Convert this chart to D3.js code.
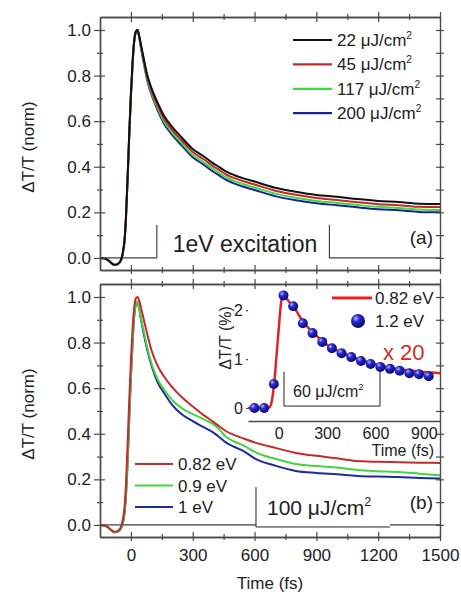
<!DOCTYPE html>
<html>
<head>
<meta charset="utf-8">
<script src="https://cdn.jsdelivr.net/npm/d3@7"></script>
<style>
  body { margin: 0; background: #fff; }
  svg { display: block; }
</style>
</head>
<body>
<svg id="chart"></svg>
<script>
// time axis (fs) shared by the main curves
const times = [-150,-130,-110,-95,-80,-65,-50,-40,-30,-24,-15,-8,0,8,16,25,32,40,50,60,80,100,130,160,200,250,300,350,400,430,460,500,550,600,700,800,900,1000,1100,1200,1300,1400,1500]

// (a) fluence series, normalised ΔT/T
const flu22 = [0,-0.002,-0.01,-0.022,-0.03,-0.027,-0.012,0.02,0.09,0.18,0.38,0.55,0.72,0.86,0.955,0.995,1.0,0.975,0.93,0.885,0.80,0.745,0.68,0.625,0.575,0.525,0.478,0.448,0.415,0.398,0.38,0.364,0.348,0.335,0.308,0.29,0.276,0.268,0.258,0.25,0.245,0.238,0.237]
const flu45 = [0,-0.002,-0.01,-0.022,-0.03,-0.027,-0.013,0.018,0.088,0.178,0.375,0.545,0.715,0.855,0.952,0.994,1.0,0.972,0.925,0.878,0.79,0.733,0.667,0.612,0.562,0.512,0.465,0.435,0.402,0.385,0.367,0.351,0.335,0.322,0.295,0.277,0.263,0.254,0.244,0.236,0.231,0.224,0.223]
const flu117 = [0,-0.002,-0.011,-0.023,-0.031,-0.028,-0.014,0.016,0.085,0.175,0.37,0.54,0.71,0.85,0.95,0.993,1.0,0.97,0.92,0.872,0.782,0.724,0.656,0.6,0.55,0.5,0.452,0.422,0.389,0.372,0.354,0.338,0.322,0.309,0.282,0.264,0.25,0.241,0.232,0.224,0.219,0.212,0.21]
const flu200 = [0,-0.002,-0.011,-0.023,-0.031,-0.028,-0.015,0.015,0.083,0.172,0.366,0.536,0.706,0.846,0.948,0.992,1.0,0.968,0.916,0.866,0.775,0.716,0.647,0.59,0.54,0.49,0.442,0.411,0.378,0.361,0.343,0.327,0.311,0.298,0.271,0.253,0.24,0.231,0.222,0.214,0.209,0.202,0.2]
const fluLabels = ['22', '45', '117', '200']

// (b) probe energy series
const pr082 = [0,-0.002,-0.01,-0.022,-0.03,-0.027,-0.012,0.02,0.09,0.18,0.38,0.55,0.72,0.86,0.955,0.995,1.0,0.985,0.95,0.91,0.835,0.766,0.697,0.652,0.605,0.558,0.52,0.484,0.452,0.432,0.412,0.395,0.378,0.362,0.338,0.316,0.303,0.292,0.28,0.277,0.275,0.273,0.272]
const pr09 = [0,-0.003,-0.012,-0.024,-0.032,-0.03,-0.018,0.005,0.06,0.13,0.3,0.47,0.65,0.8,0.92,0.97,0.98,0.95,0.9,0.86,0.775,0.708,0.638,0.595,0.548,0.51,0.486,0.465,0.442,0.418,0.388,0.366,0.347,0.32,0.29,0.267,0.258,0.252,0.241,0.236,0.232,0.225,0.218]
const pr1 = [0,-0.003,-0.012,-0.024,-0.032,-0.03,-0.018,0.004,0.058,0.127,0.295,0.465,0.645,0.795,0.915,0.968,0.978,0.95,0.895,0.85,0.765,0.70,0.625,0.58,0.527,0.483,0.455,0.43,0.405,0.385,0.362,0.343,0.322,0.292,0.26,0.237,0.228,0.222,0.215,0.212,0.21,0.206,0.204]
const probeLabels = ['0.82 eV', '0.9 eV', '1 eV']

// inset: ΔT/T (%) raw, 0.82 eV line and 1.2 eV points (x20)
const insetTimes = [-190,-150,-100,-70,-55,-45,-35,-25,-15,-5,5,15,25,35,50,70,100,150,200,250,300,400,500,600,700,800,900,1000]
const inset082 = [0,0,0,0,0.02,0.1,0.3,0.6,1.0,1.4,1.8,2.15,2.32,2.3,2.23,2.15,2.03,1.77,1.58,1.43,1.29,1.12,0.99,0.89,0.82,0.77,0.735,0.71]
const dotTimes = [-150,-90,-30,30,90,150,210,270,330,390,450,510,570,630,690,750,810,870,930]
const dot12 = [0,0,0.49,2.3,2.08,1.73,1.53,1.35,1.22,1.12,1.04,0.96,0.90,0.84,0.80,0.76,0.71,0.69,0.65]

const yMajor = [0, 0.2, 0.4, 0.6, 0.8, 1.0]
const yMinor = [0.1, 0.3, 0.5, 0.7, 0.9]
const yAll = [0,0.1,0.2,0.3,0.4,0.5,0.6,0.7,0.8,0.9,1.0]
const xMajor = [0, 300, 600, 900, 1200, 1500]
const xMinor = [150, 450, 750, 1050, 1350]
const insetXTicks = [0, 300, 600, 900]
const insetYTicks = [0, 1, 2]

const FONT = '"Liberation Sans", Arial, Helvetica, sans-serif'
const axisColor = '#4a4a4a'

const svg = d3.select('#chart').attr('width', 461).attr('height', 592)
  .attr('font-family', FONT)

const x = d3.scaleLinear().domain([-150, 1500]).range([100, 440])
const yTop = d3.scaleLinear().domain([-0.053, 1.057]).range([270, 17])
const yBot = d3.scaleLinear().domain([-0.053, 1.057]).range([537, 284])

const defs = svg.append('defs')
const grad = defs.append('radialGradient').attr('id', 'ball')
  .attr('cx', '35%').attr('cy', '32%').attr('r', '70%')
grad.append('stop').attr('offset', '0%').attr('stop-color', '#b8b8ff')
grad.append('stop').attr('offset', '35%').attr('stop-color', '#2a2ad0')
grad.append('stop').attr('offset', '100%').attr('stop-color', '#080870')

function styleAxis(g, size) {
  g.attr('font-family', FONT).attr('font-size', size)
  g.select('.domain').attr('stroke', axisColor).attr('stroke-width', 1.4)
  g.selectAll('.tick line').attr('stroke', axisColor).attr('stroke-width', 1.2)
  g.selectAll('.tick text').attr('fill', '#222')
}

// frame with crossing ticks on all four sides
function drawFrame(y, withXLabels) {
  const g = svg.append('g')
  const [x0, x1] = x.range()
  const [yb, yt] = y.range()

  const left = g.append('g').attr('transform', `translate(${x0},0)`)
    .call(d3.axisLeft(y).tickValues(yMajor).tickFormat(d3.format('.1f')).tickSize(6).tickSizeOuter(0).tickPadding(3))
  left.selectAll('.tick line').attr('x1', 5)
  styleAxis(left, 17)
  const leftMin = g.append('g').attr('transform', `translate(${x0},0)`)
    .call(d3.axisLeft(y).tickValues(yMinor).tickFormat('').tickSize(3).tickSizeOuter(0))
  leftMin.selectAll('.tick line').attr('x1', 3)
  styleAxis(leftMin, 17)

  const right = g.append('g').attr('transform', `translate(${x1},0)`)
    .call(d3.axisRight(y).tickValues(yAll).tickFormat('').tickSize(4).tickSizeOuter(0))
  right.selectAll('.tick line').attr('x1', -4)
  styleAxis(right, 17)

  const bottom = g.append('g').attr('transform', `translate(0,${yb})`)
    .call(d3.axisBottom(x).tickValues(xMajor).tickFormat(withXLabels ? d3.format('d') : '').tickSize(4).tickSizeOuter(0).tickPadding(8))
  bottom.selectAll('.tick line').attr('y1', -5)
  styleAxis(bottom, 17)
  const bottomMin = g.append('g').attr('transform', `translate(0,${yb})`)
    .call(d3.axisBottom(x).tickValues(xMinor).tickFormat('').tickSize(3).tickSizeOuter(0))
  bottomMin.selectAll('.tick line').attr('y1', -3)
  styleAxis(bottomMin, 17)

  const top = g.append('g').attr('transform', `translate(0,${yt})`)
    .call(d3.axisTop(x).tickValues(xMajor).tickFormat('').tickSize(5).tickSizeOuter(0))
  top.selectAll('.tick line').attr('y1', 5)
  styleAxis(top, 17)
  const topMin = g.append('g').attr('transform', `translate(0,${yt})`)
    .call(d3.axisTop(x).tickValues(xMinor).tickFormat('').tickSize(3).tickSizeOuter(0))
  topMin.selectAll('.tick line').attr('y1', 3)
  styleAxis(topMin, 17)
}

function zeroLine(y) {
  svg.append('line')
    .attr('x1', x(-150)).attr('x2', x(1500))
    .attr('y1', y(0)).attr('y2', y(0))
    .attr('stroke', '#111').attr('stroke-width', 1)
}

function drawCurves(y, series) {
  const line = d3.line().x((d, i) => x(times[i])).y(d => y(d)).curve(d3.curveMonotoneX)
  svg.append('g').selectAll('path')
    .data(series)
    .enter()
    .append('path')
    .attr('d', d => line(d.values))
    .attr('fill', 'none')
    .attr('stroke', d => d.color)
    .attr('stroke-width', 2)
    .attr('stroke-linejoin', 'round')
}

function addText(px, py, str, size, opts = {}) {
  return svg.append('text')
    .attr('x', px).attr('y', py)
    .attr('font-size', size)
    .attr('fill', opts.fill || '#222')
    .attr('text-anchor', opts.anchor || 'start')
    .text(str)
}

// μJ/cm² with a raised 2
function fluenceText(px, py, prefix, size, opts = {}) {
  const t = addText(px, py, prefix + ' \u03bcJ/cm', size, opts)
  t.append('tspan').attr('font-size', size * 0.6).attr('dy', -size * 0.42).text('2')
  return t
}

// ---------- panel (a) ----------
zeroLine(yTop)
svg.append('rect')
  .attr('x', x(126)).attr('width', x(963) - x(126))
  .attr('y', yTop(0.145)).attr('height', yTop(-0.02) - yTop(0.145))
  .attr('fill', '#fff')
svg.append('path')
  .attr('d', `M${x(126)},${yTop(0)}V${yTop(0.145)}M${x(963)},${yTop(0.145)}V${yTop(0)}`)
  .attr('stroke', '#222').attr('stroke-width', 1).attr('fill', 'none')

const topColors = ['#111111', '#c8262a', '#3ddc3d', '#1a2296']
drawCurves(yTop, [
  { values: flu200, color: topColors[3] },
  { values: flu117, color: topColors[2] },
  { values: flu45, color: topColors[1] },
  { values: flu22, color: topColors[0] }
])
drawFrame(yTop, false)

fluLabels.forEach((lab, i) => {
  const ly = 40 + i * 24.4
  svg.append('line').attr('x1', 293).attr('x2', 332).attr('y1', ly).attr('y2', ly)
    .attr('stroke', topColors[i]).attr('stroke-width', 2.2)
  fluenceText(337, ly + 6, lab, 17)
})
addText(245, 252, '1eV excitation', 23, { anchor: 'middle' })
addText(433, 244, '(a)', 19, { anchor: 'end' })

// ---------- panel (b) ----------
zeroLine(yBot)
svg.append('rect')
  .attr('x', x(607)).attr('width', x(1257) - x(607))
  .attr('y', yBot(0.166)).attr('height', yBot(-0.009) - yBot(0.166))
  .attr('fill', '#fff')
svg.append('path')
  .attr('d', `M${x(607)},${yBot(0.166)}V${yBot(-0.009)}H${x(1257)}`)
  .attr('stroke', '#222').attr('stroke-width', 1).attr('fill', 'none')

const botColors = ['#c62a2a', '#44d444', '#1f2a9e']
drawCurves(yBot, [
  { values: pr1, color: botColors[2] },
  { values: pr09, color: botColors[1] },
  { values: pr082, color: botColors[0] }
])
drawFrame(yBot, true)

probeLabels.forEach((lab, i) => {
  const ly = [464, 485.5, 507][i]
  svg.append('line').attr('x1', 135).attr('x2', 173).attr('y1', ly).attr('y2', ly)
    .attr('stroke', botColors[i]).attr('stroke-width', 2.2)
  addText(178, ly + 6, lab, 17)
})
fluenceText(267, 515, '100', 21)
addText(433, 509, '(b)', 19, { anchor: 'end' })

// axis titles
svg.append('text').attr('transform', 'translate(34,147) rotate(-90)')
  .attr('text-anchor', 'middle').attr('font-size', 17).attr('fill', '#222').text('\u0394T/T (norm)')
svg.append('text').attr('transform', 'translate(34,414) rotate(-90)')
  .attr('text-anchor', 'middle').attr('font-size', 17).attr('fill', '#222').text('\u0394T/T (norm)')
addText(270, 589, 'Time (fs)', 17, { anchor: 'middle' })

// ---------- inset ----------
const xi = d3.scaleLinear().domain([-190, 1000]).range([248, 440])
const yi = d3.scaleLinear().domain([-0.265, 2.41]).range([421, 290])

const ix = svg.append('g').attr('transform', `translate(0,${yi.range()[0]})`)
  .call(d3.axisBottom(xi).tickValues(insetXTicks).tickFormat(d3.format('d')).tickSize(0).tickSizeOuter(0).tickPadding(7))
styleAxis(ix, 16)
const iy = svg.append('g').attr('transform', `translate(${xi.range()[0]},0)`)
  .call(d3.axisLeft(yi).tickValues(insetYTicks).tickFormat(d3.format('d')).tickSize(2).tickSizeOuter(0).tickPadding(3))
styleAxis(iy, 16)
iy.select('.domain').remove()

svg.append('text').attr('transform', 'translate(231,338) rotate(-90)')
  .attr('text-anchor', 'middle').attr('font-size', 16).attr('fill', '#222').text('\u0394T/T (%)')
addText(434, 456, 'Time (fs)', 16, { anchor: 'end' })

svg.append('path')
  .attr('d', `M${xi(33)},${yi(0.74)}V${yi(0.04)}H${xi(628)}V${yi(0.78)}`)
  .attr('stroke', '#222').attr('stroke-width', 1).attr('fill', 'none')
fluenceText(293, 397, '60', 16)

const insetLine = d3.line().x((d, i) => xi(insetTimes[i])).y(d => yi(d)).curve(d3.curveMonotoneX)
svg.append('path').attr('d', insetLine(inset082))
  .attr('fill', 'none').attr('stroke', '#e02424').attr('stroke-width', 2.5)

svg.append('g').selectAll('circle')
  .data(dot12)
  .enter()
  .append('circle')
  .attr('cx', (d, i) => xi(dotTimes[i]))
  .attr('cy', d => yi(d))
  .attr('r', 5)
  .attr('fill', 'url(#ball)')

svg.append('line').attr('x1', 332).attr('x2', 372).attr('y1', 298).attr('y2', 298)
  .attr('stroke', '#e02424').attr('stroke-width', 3)
addText(375, 304, '0.82 eV', 17)
svg.append('circle').attr('cx', 358).attr('cy', 321).attr('r', 7).attr('fill', 'url(#ball)')
addText(375, 327, '1.2 eV', 17)
addText(383, 360, 'x 20', 22, { fill: '#d42a2a' })
</script>
</body>
</html>
